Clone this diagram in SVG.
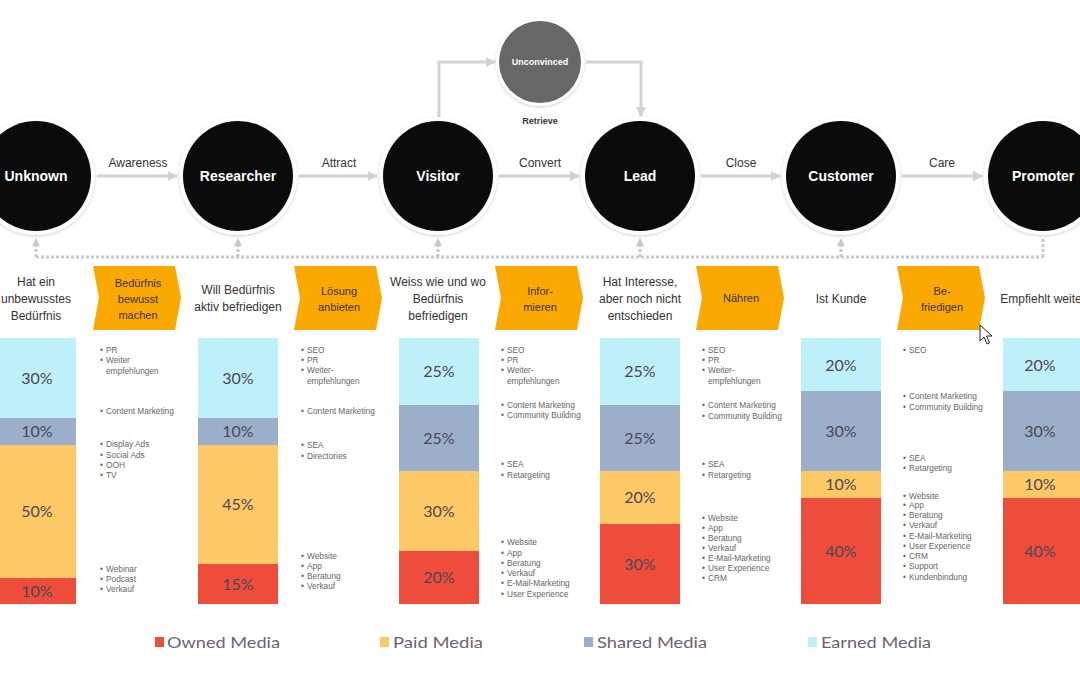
<svg xmlns="http://www.w3.org/2000/svg" width="1080" height="675" viewBox="0 0 1080 675">
<defs>
<filter id="sh" x="-20%" y="-20%" width="140%" height="140%"><feDropShadow dx="0" dy="1" stdDeviation="1.8" flood-color="#000" flood-opacity="0.2"/></filter>
<marker id="ah" markerWidth="10" markerHeight="10" refX="9" refY="5" orient="auto" markerUnits="userSpaceOnUse"><path d="M0,0 L10,5 L0,10 Z" fill="#d2d2d2"/></marker>
<style>
.ring{fill:#fff;filter:url(#sh)}
.core{fill:#0b0b0b}
.ntx{font-family:"Liberation Sans",Arial,sans-serif;font-weight:bold;font-size:14px;fill:#fff;text-anchor:middle}
.con{stroke:#d2d2d2;stroke-width:3;fill:none}
.dot{stroke:#c9c9c9;stroke-width:3;fill:none;stroke-dasharray:3 2}
.lab{font-family:"Liberation Sans",Arial,sans-serif;font-size:12px;fill:#333;text-anchor:middle}
.stg{font-family:"Liberation Sans",Arial,sans-serif;font-size:12px;fill:#333;text-anchor:middle}
.chv{fill:#FBA800}
.ctx{font-family:"Liberation Sans",Arial,sans-serif;font-size:11px;fill:#333;text-anchor:middle}
.blt{font-family:"Liberation Sans",Arial,sans-serif;font-size:8.3px;fill:#666}
.e{fill:#BEF0FA}.s{fill:#9BAFCA}.p{fill:#FDC966}.o{fill:#EE4D3B}
.pct{font-family:Lato,"Open Sans",sans-serif;font-size:16px;fill:#4d4656;text-anchor:middle}
.leg{font-family:Lato,"Open Sans",sans-serif;font-size:16px;fill:#6e5f73}
.tri{fill:#c9c9c9}
</style>
</defs>
<rect width="1080" height="675" fill="#fff"/>

<g id="connectors">
<line class="con" x1="97" y1="176" x2="177" y2="176" marker-end="url(#ah)"/>
<line class="con" x1="299" y1="176" x2="377" y2="176" marker-end="url(#ah)"/>
<line class="con" x1="499" y1="176" x2="579" y2="176" marker-end="url(#ah)"/>
<line class="con" x1="701" y1="176" x2="780" y2="176" marker-end="url(#ah)"/>
<line class="con" x1="902" y1="176" x2="982" y2="176" marker-end="url(#ah)"/>
<polyline class="con" points="439,117 439,62 495,62" marker-end="url(#ah)"/>
<polyline class="con" points="586,62 641,62 641,116" marker-end="url(#ah)"/>
<text class="lab" x="138" y="167">Awareness</text>
<text class="lab" x="339" y="167">Attract</text>
<text class="lab" x="540" y="167">Convert</text>
<text class="lab" x="741" y="167">Close</text>
<text class="lab" x="942" y="167">Care</text>
<text x="540" y="124" font-family="Liberation Sans,Arial,sans-serif" font-size="9" font-weight="bold" fill="#333" text-anchor="middle">Retrieve</text>
<path class="dot" d="M36,257 H1043 M36,257 V246 M238,257 V246 M438,257 V246 M640,257 V246 M841,257 V246 M1043,257 V237"/>
<path class="tri" d="M32,246 L36,238 L40,246 Z M234,246 L238,238 L242,246 Z M434,246 L438,238 L442,246 Z M636,246 L640,238 L644,246 Z M837,246 L841,238 L845,246 Z"/>
</g>

<g id="node-unknown"><circle class="ring" cx="36" cy="176" r="59"/><circle class="core" cx="36" cy="176" r="55"/><text class="ntx" x="36" y="181">Unknown</text></g>
<g id="node-researcher"><circle class="ring" cx="238" cy="176" r="59"/><circle class="core" cx="238" cy="176" r="55"/><text class="ntx" x="238" y="181">Researcher</text></g>
<g id="node-visitor"><circle class="ring" cx="438" cy="176" r="59"/><circle class="core" cx="438" cy="176" r="55"/><text class="ntx" x="438" y="181">Visitor</text></g>
<g id="node-lead"><circle class="ring" cx="640" cy="176" r="59"/><circle class="core" cx="640" cy="176" r="55"/><text class="ntx" x="640" y="181">Lead</text></g>
<g id="node-customer"><circle class="ring" cx="841" cy="176" r="59"/><circle class="core" cx="841" cy="176" r="55"/><text class="ntx" x="841" y="181">Customer</text></g>
<g id="node-promoter"><circle class="ring" cx="1043" cy="176" r="59"/><circle class="core" cx="1043" cy="176" r="55"/><text class="ntx" x="1043" y="181">Promoter</text></g>
<g id="node-unconvinced"><circle class="ring" cx="540" cy="62" r="44"/><circle cx="540" cy="62" r="41" fill="#676767"/><text x="540" y="65" font-family="Liberation Sans,Arial,sans-serif" font-size="9" font-weight="bold" fill="#fff" text-anchor="middle">Unconvinced</text></g>

<g id="stages">
<text class="stg" x="36" y="286">Hat ein</text><text class="stg" x="36" y="303">unbewusstes</text><text class="stg" x="36" y="320">Bedürfnis</text>
<text class="stg" x="238" y="294">Will Bedürfnis</text><text class="stg" x="238" y="311">aktiv befriedigen</text>
<text class="stg" x="438" y="286">Weiss wie und wo</text><text class="stg" x="438" y="303">Bedürfnis</text><text class="stg" x="438" y="320">befriedigen</text>
<text class="stg" x="640" y="286">Hat Interesse,</text><text class="stg" x="640" y="303">aber noch nicht</text><text class="stg" x="640" y="320">entschieden</text>
<text class="stg" x="841" y="303">Ist Kunde</text>
<text class="stg" x="1043" y="303">Empfiehlt weiter</text>
</g>

<g id="chevrons">
<path class="chv" d="M93,266 H175 L181,298 L175,330 H93 L99,298 Z"/>
<text class="ctx" x="138" y="287">Bedürfnis</text><text class="ctx" x="138" y="303">bewusst</text><text class="ctx" x="138" y="319">machen</text>
<path class="chv" d="M294,266 H376 L382,298 L376,330 H294 L300,298 Z"/>
<text class="ctx" x="339" y="295">Lösung</text><text class="ctx" x="339" y="311">anbieten</text>
<path class="chv" d="M495,266 H577 L583,298 L577,330 H495 L501,298 Z"/>
<text class="ctx" x="540" y="295">Infor-</text><text class="ctx" x="540" y="311">mieren</text>
<path class="chv" d="M696,266 H778 L784,298 L778,330 H696 L702,298 Z"/>
<text class="ctx" x="741" y="302">Nähren</text>
<path class="chv" d="M897,266 H979 L985,298 L979,330 H897 L903,298 Z"/>
<text class="ctx" x="942" y="295">Be-</text><text class="ctx" x="942" y="311">friedigen</text>
</g>

<g id="bars">
<rect class="e" x="-4" y="338" width="80" height="80"/><rect class="s" x="-4" y="418" width="80" height="27"/><rect class="p" x="-4" y="445" width="80" height="133"/><rect class="o" x="-4" y="578" width="80" height="26"/>
<text class="pct" x="37" y="384">30%</text><text class="pct" x="37" y="437">10%</text><text class="pct" x="37" y="517">50%</text><text class="pct" x="37" y="597">10%</text>

<rect class="e" x="198" y="338" width="80" height="80"/><rect class="s" x="198" y="418" width="80" height="27"/><rect class="p" x="198" y="445" width="80" height="119"/><rect class="o" x="198" y="564" width="80" height="40"/>
<text class="pct" x="238" y="384">30%</text><text class="pct" x="238" y="437">10%</text><text class="pct" x="238" y="510">45%</text><text class="pct" x="238" y="590">15%</text>

<rect class="e" x="399" y="338" width="80" height="67"/><rect class="s" x="399" y="405" width="80" height="66"/><rect class="p" x="399" y="471" width="80" height="80"/><rect class="o" x="399" y="551" width="80" height="53"/>
<text class="pct" x="439" y="377">25%</text><text class="pct" x="439" y="444">25%</text><text class="pct" x="439" y="517">30%</text><text class="pct" x="439" y="583">20%</text>

<rect class="e" x="600" y="338" width="80" height="67"/><rect class="s" x="600" y="405" width="80" height="66"/><rect class="p" x="600" y="471" width="80" height="53"/><rect class="o" x="600" y="524" width="80" height="80"/>
<text class="pct" x="640" y="377">25%</text><text class="pct" x="640" y="444">25%</text><text class="pct" x="640" y="503">20%</text><text class="pct" x="640" y="570">30%</text>

<rect class="e" x="801" y="338" width="80" height="53"/><rect class="s" x="801" y="391" width="80" height="80"/><rect class="p" x="801" y="471" width="80" height="27"/><rect class="o" x="801" y="498" width="80" height="106"/>
<text class="pct" x="841" y="371">20%</text><text class="pct" x="841" y="437">30%</text><text class="pct" x="841" y="490">10%</text><text class="pct" x="841" y="557">40%</text>

<rect class="e" x="1003" y="338" width="80" height="53"/><rect class="s" x="1003" y="391" width="80" height="80"/><rect class="p" x="1003" y="471" width="80" height="27"/><rect class="o" x="1003" y="498" width="80" height="106"/>
<text class="pct" x="1040" y="371">20%</text><text class="pct" x="1040" y="437">30%</text><text class="pct" x="1040" y="490">10%</text><text class="pct" x="1040" y="557">40%</text>
</g>

<g id="lists" class="blt">
<text x="100" y="353">•</text><text x="106" y="353">PR</text>
<text x="100" y="363">•</text><text x="106" y="363">Weiter</text><text x="106" y="374">empfehlungen</text>
<text x="100" y="414">•</text><text x="106" y="414">Content Marketing</text>
<text x="100" y="447">•</text><text x="106" y="447">Display Ads</text>
<text x="100" y="458">•</text><text x="106" y="458">Social Ads</text>
<text x="100" y="468">•</text><text x="106" y="468">OOH</text>
<text x="100" y="478">•</text><text x="106" y="478">TV</text>
<text x="100" y="572">•</text><text x="106" y="572">Webinar</text>
<text x="100" y="582">•</text><text x="106" y="582">Podcast</text>
<text x="100" y="592">•</text><text x="106" y="592">Verkauf</text>

<text x="301" y="353">•</text><text x="307" y="353">SEO</text>
<text x="301" y="363">•</text><text x="307" y="363">PR</text>
<text x="301" y="373">•</text><text x="307" y="373">Weiter-</text><text x="307" y="384">empfehlungen</text>
<text x="301" y="414">•</text><text x="307" y="414">Content Marketing</text>
<text x="301" y="448">•</text><text x="307" y="448">SEA</text>
<text x="301" y="459">•</text><text x="307" y="459">Directories</text>
<text x="301" y="559">•</text><text x="307" y="559">Website</text>
<text x="301" y="569">•</text><text x="307" y="569">App</text>
<text x="301" y="579">•</text><text x="307" y="579">Beratung</text>
<text x="301" y="589">•</text><text x="307" y="589">Verkauf</text>

<text x="501" y="353">•</text><text x="507" y="353">SEO</text>
<text x="501" y="363">•</text><text x="507" y="363">PR</text>
<text x="501" y="373">•</text><text x="507" y="373">Weiter-</text><text x="507" y="384">empfehlungen</text>
<text x="501" y="408">•</text><text x="507" y="408">Content Marketing</text>
<text x="501" y="418">•</text><text x="507" y="418">Community Building</text>
<text x="501" y="467">•</text><text x="507" y="467">SEA</text>
<text x="501" y="478">•</text><text x="507" y="478">Retargeting</text>
<text x="501" y="545">•</text><text x="507" y="545">Website</text>
<text x="501" y="556">•</text><text x="507" y="556">App</text>
<text x="501" y="566">•</text><text x="507" y="566">Beratung</text>
<text x="501" y="576">•</text><text x="507" y="576">Verkauf</text>
<text x="501" y="586">•</text><text x="507" y="586">E-Mail-Marketing</text>
<text x="501" y="597">•</text><text x="507" y="597">User Experience</text>

<text x="702" y="353">•</text><text x="708" y="353">SEO</text>
<text x="702" y="363">•</text><text x="708" y="363">PR</text>
<text x="702" y="373">•</text><text x="708" y="373">Weiter-</text><text x="708" y="384">empfehlungen</text>
<text x="702" y="408">•</text><text x="708" y="408">Content Marketing</text>
<text x="702" y="419">•</text><text x="708" y="419">Community Building</text>
<text x="702" y="467">•</text><text x="708" y="467">SEA</text>
<text x="702" y="478">•</text><text x="708" y="478">Retargeting</text>
<text x="702" y="521">•</text><text x="708" y="521">Website</text>
<text x="702" y="531">•</text><text x="708" y="531">App</text>
<text x="702" y="541">•</text><text x="708" y="541">Beratung</text>
<text x="702" y="551">•</text><text x="708" y="551">Verkauf</text>
<text x="702" y="561">•</text><text x="708" y="561">E-Mail-Marketing</text>
<text x="702" y="571">•</text><text x="708" y="571">User Experience</text>
<text x="702" y="581">•</text><text x="708" y="581">CRM</text>

<text x="903" y="353">•</text><text x="909" y="353">SEO</text>
<text x="903" y="399">•</text><text x="909" y="399">Content Marketing</text>
<text x="903" y="410">•</text><text x="909" y="410">Community Building</text>
<text x="903" y="461">•</text><text x="909" y="461">SEA</text>
<text x="903" y="471">•</text><text x="909" y="471">Retargeting</text>
<text x="903" y="499">•</text><text x="909" y="499">Website</text>
<text x="903" y="508">•</text><text x="909" y="508">App</text>
<text x="903" y="518">•</text><text x="909" y="518">Beratung</text>
<text x="903" y="528">•</text><text x="909" y="528">Verkauf</text>
<text x="903" y="539">•</text><text x="909" y="539">E-Mail-Marketing</text>
<text x="903" y="549">•</text><text x="909" y="549">User Experience</text>
<text x="903" y="559">•</text><text x="909" y="559">CRM</text>
<text x="903" y="569">•</text><text x="909" y="569">Support</text>
<text x="903" y="580">•</text><text x="909" y="580">Kundenbindung</text>
</g>

<g id="legend">
<rect class="o" x="155" y="637" width="9" height="10"/><text class="leg" x="167" y="648" textLength="113" lengthAdjust="spacingAndGlyphs">Owned Media</text>
<rect class="p" x="380" y="637" width="9" height="10"/><text class="leg" x="393" y="648" textLength="90" lengthAdjust="spacingAndGlyphs">Paid Media</text>
<rect class="s" x="584" y="637" width="9" height="10"/><text class="leg" x="597" y="648" textLength="110" lengthAdjust="spacingAndGlyphs">Shared Media</text>
<rect class="e" x="808" y="637" width="9" height="10"/><text class="leg" x="821" y="648" textLength="110" lengthAdjust="spacingAndGlyphs">Earned Media</text>
</g>

<path d="M980,325 L980,341 L984,337 L987,344 L989.5,343 L986.5,336 L992,336 Z" fill="#fff" stroke="#222" stroke-width="1"/>
</svg>
